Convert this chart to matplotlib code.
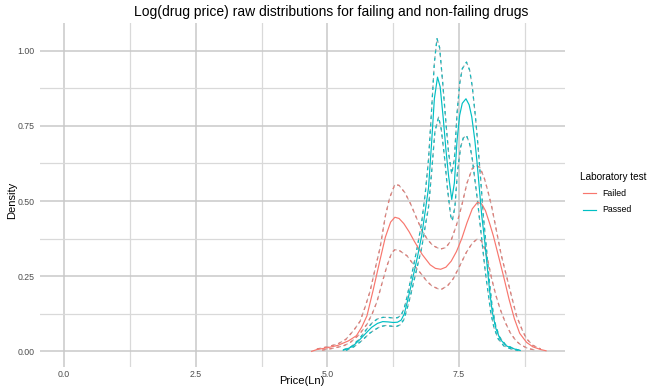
import numpy as np
import matplotlib
matplotlib.use("Agg")
import matplotlib.pyplot as plt
from matplotlib.lines import Line2D

plt.rcParams['font.family'] = ['Liberation Sans', 'DejaVu Sans']

# ---- data ----
failed_x = [4.70, 4.80, 5.00, 5.20, 5.40, 5.55, 5.65, 5.75, 5.87, 6.00, 6.10, 6.20, 6.28, 6.36,
            6.45, 6.55, 6.65, 6.80, 6.95, 7.05, 7.15, 7.25, 7.35, 7.45, 7.55, 7.65, 7.75, 7.85,
            7.93, 8.00, 8.08, 8.15, 8.25, 8.35, 8.45, 8.55, 8.65, 8.78, 8.90, 9.05, 9.15]
failed_y = [0.000, 0.006, 0.012, 0.020, 0.035, 0.052, 0.080, 0.118, 0.205, 0.305, 0.380, 0.430,
            0.446, 0.442, 0.425, 0.398, 0.366, 0.322, 0.288, 0.276, 0.273, 0.280, 0.300, 0.332,
            0.375, 0.428, 0.474, 0.496, 0.490, 0.468, 0.425, 0.384, 0.315, 0.245, 0.172, 0.108,
            0.060, 0.030, 0.015, 0.006, 0.002]

failed_hi_x = [4.80, 5.00, 5.20, 5.35, 5.50, 5.62, 5.72, 5.81, 5.90, 6.00, 6.10, 6.18, 6.28, 6.36,
               6.47, 6.58, 6.70, 6.80, 6.90, 7.00, 7.14, 7.25, 7.35, 7.45, 7.55, 7.65, 7.75, 7.82,
               7.90, 7.98, 8.05, 8.12, 8.21, 8.30, 8.40, 8.50, 8.59, 8.70, 8.78, 8.90, 9.05]
failed_hi_y = [0.008, 0.015, 0.025, 0.040, 0.070, 0.100, 0.150, 0.200, 0.270, 0.345, 0.450, 0.510,
               0.555, 0.552, 0.528, 0.490, 0.440, 0.400, 0.372, 0.352, 0.340, 0.345, 0.370, 0.420,
               0.485, 0.560, 0.608, 0.620, 0.610, 0.575, 0.530, 0.480, 0.400, 0.320, 0.250, 0.180,
               0.118, 0.070, 0.042, 0.020, 0.008]

failed_lo_x = [4.90, 5.10, 5.30, 5.43, 5.60, 5.75, 5.85, 5.94, 6.05, 6.13, 6.22, 6.28, 6.36, 6.51,
               6.65, 6.76, 6.88, 6.98, 7.10, 7.17, 7.28, 7.39, 7.50, 7.64, 7.75, 7.84, 7.92, 7.99,
               8.06, 8.12, 8.20, 8.28, 8.38, 8.47, 8.58, 8.66, 8.80, 8.95]
failed_lo_y = [0.004, 0.010, 0.018, 0.029, 0.055, 0.090, 0.125, 0.165, 0.235, 0.284, 0.328, 0.338,
               0.336, 0.318, 0.285, 0.262, 0.235, 0.218, 0.208, 0.207, 0.218, 0.242, 0.280, 0.330,
               0.360, 0.373, 0.368, 0.340, 0.290, 0.240, 0.185, 0.140, 0.095, 0.062, 0.035, 0.023,
               0.010, 0.004]

passed_x = [5.30, 5.40, 5.50, 5.62, 5.75, 5.84, 5.95, 6.05, 6.15, 6.25, 6.33, 6.40, 6.46, 6.51,
            6.57, 6.63, 6.71, 6.79, 6.86, 6.92, 6.98, 7.03, 7.09, 7.14, 7.20, 7.25, 7.30, 7.36,
            7.41, 7.46, 7.51, 7.56, 7.63, 7.69, 7.74, 7.80, 7.84, 7.89, 7.93, 7.99, 8.04, 8.08,
            8.13, 8.20, 8.28, 8.40, 8.55, 8.66]
passed_y = [0.004, 0.010, 0.020, 0.040, 0.064, 0.080, 0.093, 0.099, 0.098, 0.096, 0.097, 0.104,
            0.125, 0.160, 0.205, 0.252, 0.315, 0.385, 0.470, 0.545, 0.700, 0.840, 0.912, 0.880,
            0.773, 0.670, 0.584, 0.505, 0.560, 0.700, 0.785, 0.825, 0.840, 0.820, 0.780, 0.700,
            0.629, 0.530, 0.451, 0.360, 0.270, 0.200, 0.130, 0.075, 0.040, 0.018, 0.008, 0.003]

passed_hi_x = [5.30, 5.45, 5.60, 5.75, 5.85, 5.95, 6.05, 6.15, 6.25, 6.33, 6.40, 6.46, 6.51, 6.57,
               6.63, 6.71, 6.79, 6.86, 6.92, 6.98, 7.03, 7.08, 7.13, 7.19, 7.25, 7.30, 7.36, 7.41,
               7.46, 7.51, 7.56, 7.64, 7.70, 7.75, 7.81, 7.86, 7.91, 7.96, 8.02, 8.07, 8.12, 8.18,
               8.26, 8.38, 8.55, 8.66]
passed_hi_y = [0.005, 0.015, 0.040, 0.075, 0.095, 0.108, 0.113, 0.113, 0.111, 0.112, 0.120, 0.145,
               0.180, 0.230, 0.280, 0.350, 0.430, 0.530, 0.640, 0.810, 0.960, 1.040, 1.010, 0.890,
               0.760, 0.660, 0.590, 0.640, 0.790, 0.890, 0.940, 0.962, 0.935, 0.880, 0.780, 0.680,
               0.570, 0.450, 0.340, 0.240, 0.160, 0.095, 0.050, 0.022, 0.008, 0.003]

passed_lo_x = [5.35, 5.50, 5.65, 5.80, 5.90, 6.00, 6.10, 6.20, 6.30, 6.38, 6.45, 6.51, 6.57, 6.63,
               6.71, 6.79, 6.86, 6.92, 6.98, 7.04, 7.11, 7.16, 7.22, 7.28, 7.34, 7.37, 7.42, 7.47,
               7.53, 7.58, 7.64, 7.70, 7.75, 7.80, 7.85, 7.90, 7.95, 8.00, 8.05, 8.10, 8.16, 8.24,
               8.35, 8.50, 8.62]
passed_lo_y = [0.003, 0.015, 0.035, 0.060, 0.072, 0.082, 0.086, 0.084, 0.082, 0.088, 0.105, 0.140,
               0.180, 0.225, 0.285, 0.345, 0.420, 0.480, 0.600, 0.730, 0.779, 0.740, 0.650, 0.540,
               0.450, 0.434, 0.480, 0.600, 0.680, 0.710, 0.718, 0.690, 0.640, 0.570, 0.500, 0.420,
               0.340, 0.260, 0.195, 0.130, 0.080, 0.042, 0.018, 0.007, 0.003]

x_ticks = [0.0, 2.5, 5.0, 7.5]
x_tick_labels = ["0.0", "2.5", "5.0", "7.5"]
y_ticks = [0.00, 0.25, 0.50, 0.75, 1.00]
y_tick_labels = ["0.00", "0.25", "0.50", "0.75", "1.00"]
groups = ["Failed", "Passed"]

# ---- styling ----
W, H = 648, 390
fig = plt.figure(figsize=(W / 100, H / 100), dpi=100)
left, right, top, bottom = 40, 565, 23, 367
ax = fig.add_axes([left / W, 1 - bottom / H, (right - left) / W, (bottom - top) / H])

red = "#F8766D"
teal = "#00BFC4"
red_dash = "#e07c76"
red_dash2 = "#c9a3a1"
teal_dash = "#10bcc0"
teal_dash2 = "#8aa8aa"

ax.set_xlim(-0.456, 9.51)
ax.set_ylim(-0.052, 1.092)

# grid
ax.set_xticks(x_ticks)
ax.set_xticks([1.25, 3.75, 6.25, 8.75], minor=True)
ax.set_yticks(y_ticks)
ax.set_yticks([0.125, 0.375, 0.625, 0.875], minor=True)
ax.grid(True, which="major", color="#c9c9c9", linewidth=1.1)
ax.grid(True, which="minor", color="#d9d9d9", linewidth=0.9)
ax.set_axisbelow(True)
for s in ax.spines.values():
    s.set_visible(False)
ax.tick_params(which="both", length=0)
ax.set_xticklabels(x_tick_labels, fontsize=6.3, color="#4d4d4d")
ax.set_yticklabels(y_tick_labels, fontsize=6.3, color="#4d4d4d")
ax.tick_params(axis="x", pad=2)
ax.tick_params(axis="y", pad=4)

lw = 0.85
dash_under = (0, (3.8, 2.4))
dash_over = (0, (2.4, 3.8))
for xs, ys, c1, c2 in [(failed_hi_x, failed_hi_y, red_dash, red_dash2),
                       (failed_lo_x, failed_lo_y, red_dash, red_dash2),
                       (passed_hi_x, passed_hi_y, teal_dash, teal_dash2),
                       (passed_lo_x, passed_lo_y, teal_dash, teal_dash2)]:
    ax.plot(xs, ys, color=c2, lw=lw, ls=dash_under)
    ax.plot(xs, ys, color=c1, lw=lw, ls=dash_over)
ax.plot(failed_x, failed_y, color=red, lw=lw, label=groups[0])
ax.plot(passed_x, passed_y, color=teal, lw=lw, label=groups[1])

ax.set_xlabel("Price(Ln)", fontsize=8, color="black")
ax.set_ylabel("Density", fontsize=8, color="black")
ax.xaxis.set_label_coords((302 - left) / (right - left), -(381 - bottom) / (bottom - top))
ax.yaxis.set_label_coords(-(left - 12) / (right - left), (bottom - 200) / (bottom - top))
ax.xaxis.label.set_va("center")
ax.yaxis.label.set_va("center")

fig.text(331 / W, 1 - 12 / H, "Log(drug price) raw distributions for failing and non-failing drugs",
         ha="center", va="center", fontsize=10, color="black")

# legend
fig.text(580 / W, 1 - 177 / H, "Laboratory test", ha="left", va="center", fontsize=7.2, color="black")
colors = [red, teal]
ys = [193, 210]
for g, c, yy in zip(groups, colors, ys):
    fig.add_artist(Line2D([583 / W, 596 / W], [1 - yy / H, 1 - yy / H], color=c, lw=lw,
                          transform=fig.transFigure))
    fig.text(602 / W, 1 - yy / H, g, ha="left", va="center", fontsize=6.3, color="black")

fig.savefig("out.png", dpi=100, facecolor="white")
